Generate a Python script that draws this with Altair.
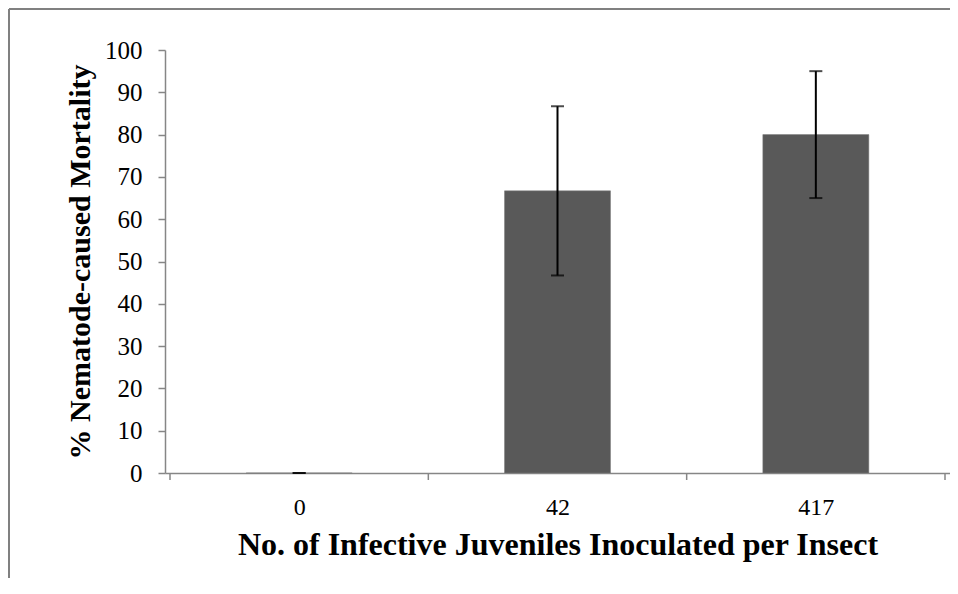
import altair as alt
import pandas as pd

categories = ["0", "42", "417"]
mortality = [0, 66.7, 80]
err_low = [0, 46.7, 65]
err_high = [0, 86.7, 95]
boundaries = [-0.5, 0.5, 1.5, 2.5]

df = pd.DataFrame({
    "pos": list(range(len(categories))),
    "cat": categories,
    "mort": mortality,
    "lo": err_low,
    "hi": err_high,
})
bdf = pd.DataFrame({"b": boundaries})
one = pd.DataFrame({"k": [0]})

W, H = 785, 423
FONT = "Liberation Serif"
AXIS_GRAY = "#868686"

xscale = alt.Scale(domain=[-0.5, 2.5], nice=False, zero=False)
yscale = alt.Scale(domain=[0, 100], nice=False)

label_expr = "datum.value == 0 ? '0' : datum.value == 1 ? '42' : '417'"

bars = alt.Chart(df).mark_bar(size=106, color="#595959", stroke="#7a7a7a", strokeWidth=0.5).encode(
    x=alt.X("pos:Q", scale=xscale,
            axis=alt.Axis(values=[0, 1, 2], labelExpr=label_expr, ticks=False, tickSize=0,
                          grid=False, domainColor=AXIS_GRAY, domainWidth=1.5,
                          labelFont=FONT, labelFontSize=24, labelColor="black", labelPadding=22,
                          title="No. of Infective Juveniles Inoculated per Insect",
                          titleFont=FONT, titleFontSize=32, titleFontWeight="bold",
                          titleColor="black", titlePadding=10)),
    y=alt.Y("mort:Q", scale=yscale,
            axis=alt.Axis(values=list(range(0, 101, 10)), grid=False, tickSize=7,
                          tickColor=AXIS_GRAY, tickWidth=1.5, domainColor=AXIS_GRAY, domainWidth=1.5,
                          labelFont=FONT, labelFontSize=25, labelColor="black", labelPadding=16,
                          title="% Nematode-caused Mortality",
                          titleFont=FONT, titleFontSize=30, titleFontWeight="bold",
                          titleColor="black", titlePadding=9)),
)

err_line = alt.Chart(df).mark_rule(color="black", strokeWidth=2).encode(
    x=alt.X("pos:Q", scale=xscale), y="lo:Q", y2="hi:Q")
cap_lo = alt.Chart(df).mark_tick(color="black", orient="horizontal", size=13, thickness=2).encode(
    x=alt.X("pos:Q", scale=xscale), y="lo:Q")
cap_hi = alt.Chart(df).mark_tick(color="black", orient="horizontal", size=13, thickness=2).encode(
    x=alt.X("pos:Q", scale=xscale), y="hi:Q")

xticks = alt.Chart(bdf).mark_rule(color=AXIS_GRAY, strokeWidth=1.5).encode(
    x=alt.X("b:Q", scale=xscale), y=alt.value(H), y2=alt.value(H + 7))

frame_top = alt.Chart(one).mark_rule(color="#808080", strokeWidth=2).encode(
    x=alt.value(-156), x2=alt.value(W + 5), y=alt.value(-41))
frame_left = alt.Chart(one).mark_rule(color="#808080", strokeWidth=2).encode(
    x=alt.value(-156), y=alt.value(-41), y2=alt.value(H + 130))

chart = alt.layer(frame_top, frame_left, bars, err_line, cap_lo, cap_hi, xticks).properties(
    width=W, height=H,
    autosize=alt.AutoSizeParams(type="none"),
    padding={"left": 157, "top": 42, "right": 0, "bottom": 105},
).configure(background="white", view=alt.ViewConfig(stroke=None))

chart.save("out.html", embed_options={"renderer": "svg", "actions": False})
